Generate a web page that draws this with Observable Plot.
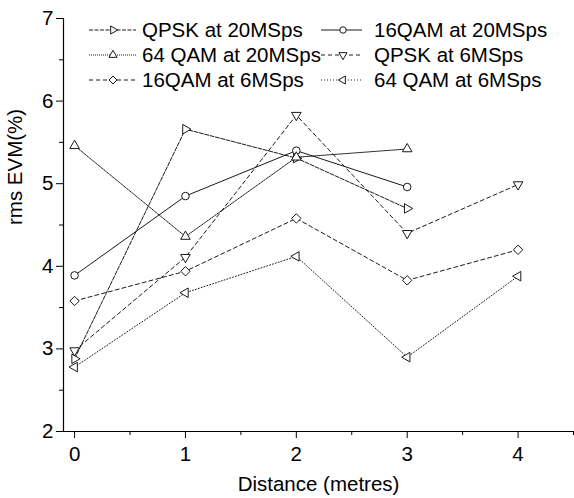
<!DOCTYPE html>
<html>
<head>
<meta charset="utf-8">
<script src="https://cdn.jsdelivr.net/npm/d3@7"></script>
<script src="https://cdn.jsdelivr.net/npm/@observablehq/plot@0.6"></script>
<style>
  html, body { margin: 0; padding: 0; background: #fff; }
  #chart { width: 574px; height: 498px; position: relative; }
</style>
</head>
<body>
<div id="chart"></div>
<script>
// ---- data ----
const distance = [0, 1, 2, 3, 4];
const xTicks = [0, 1, 2, 3, 4];
const xMinorTicks = [0.5, 1.5, 2.5, 3.5, 4.5];
const yTicks = [2, 3, 4, 5, 6, 7];
const yMinorTicks = [2.5, 3.5, 4.5, 5.5, 6.5];

const seriesNames = [
  "QPSK at 20MSps", "16QAM at 20MSps", "64 QAM at 20MSps",
  "QPSK at 6MSps", "16QAM at 6MSps", "64 QAM at 6MSps"
];
const qpsk20 = [2.88, 5.66, 5.31, 4.70];
const qam16_20 = [3.89, 4.85, 5.40, 4.96];
const qam64_20 = [5.46, 4.36, 5.32, 5.42];
const qpsk6 = [2.98, 4.11, 5.83, 4.40, 4.99];
const qam16_6 = [3.58, 3.94, 4.58, 3.83, 4.20];
const qam64_6 = [2.78, 3.68, 4.12, 2.90, 3.88];
const seriesValues = [qpsk20, qam16_20, qam64_20, qpsk6, qam16_6, qam64_6];

const xLabel = "Distance (metres)";
const yLabel = "rms EVM(%)";

// ---- symbols ----
function tri(angle) {
  return {
    draw(ctx, size) {
      const r = Math.sqrt(size / Math.PI);
      for (let i = 0; i < 3; i++) {
        const a = angle + i * 2 * Math.PI / 3;
        const px = r * Math.cos(a), py = r * Math.sin(a);
        if (i === 0) ctx.moveTo(px, py); else ctx.lineTo(px, py);
      }
      ctx.closePath();
    }
  };
}
const diamond = {
  draw(ctx, size) {
    const r = Math.sqrt(size / Math.PI);
    ctx.moveTo(0, -r); ctx.lineTo(r, 0); ctx.lineTo(0, r); ctx.lineTo(-r, 0); ctx.closePath();
  }
};
const circle = {
  draw(ctx, size) {
    const r = Math.sqrt(size / Math.PI);
    ctx.moveTo(r, 0); ctx.arc(0, 0, r, 0, 2 * Math.PI);
  }
};
const styles = [
  {symbol: tri(0), r: 5.5, dash: "4,1.5"},
  {symbol: circle, r: 3.8, dash: null},
  {symbol: tri(-Math.PI / 2), r: 5.5, dash: "1,1"},
  {symbol: tri(Math.PI / 2), r: 5.5, dash: "4,3"},
  {symbol: diamond, r: 4.7, dash: "4,3"},
  {symbol: tri(Math.PI), r: 5.5, dash: "1,2"}
];

const series = seriesNames.map((name, k) =>
  seriesValues[k].map((v, i) => ({name, x: distance[i], y: v}))
);

const FONT = "'Liberation Sans', Arial, Helvetica, sans-serif";
const FS = 20.5;

const marks = [
  Plot.axisX({ticks: xTicks, tickSize: 7, tickPadding: 8, fontSize: FS, tickFormat: d => String(d), label: null}),
  Plot.axisX({ticks: xMinorTicks, tickSize: 4, tickFormat: () => "", label: null}),
  Plot.axisY({ticks: yTicks, tickSize: 7, tickPadding: 3, fontSize: FS, tickFormat: d => String(d), label: null}),
  Plot.axisY({ticks: yMinorTicks, tickSize: 4, tickFormat: () => "", label: null}),
  Plot.ruleY([2], {stroke: "black", strokeWidth: 1.2}),
  Plot.ruleX([-0.1], {stroke: "black", strokeWidth: 1.2}),
  Plot.text([xLabel], {frameAnchor: "bottom", dy: 59, text: d => d, fontSize: FS}),
  Plot.text([yLabel], {frameAnchor: "left", dx: -48, rotate: -90, text: d => d, fontSize: FS})
];
series.forEach((data, k) => {
  const s = styles[k];
  marks.push(Plot.line(data, {x: "x", y: "y", stroke: "black", strokeWidth: 0.9,
    strokeDasharray: s.dash || undefined}));
});
series.forEach((data, k) => {
  const s = styles[k];
  marks.push(Plot.dot(data, {x: "x", y: "y", symbol: s.symbol, r: s.r, stroke: "black",
    fill: "white", strokeWidth: 0.9}));
});

const chart = Plot.plot({
  width: 574,
  height: 498,
  marginLeft: 63,
  marginRight: 1,
  marginTop: 18,
  marginBottom: 67,
  x: {domain: [-0.1, 4.5]},
  y: {domain: [2, 7]},
  style: {fontFamily: FONT, color: "black", background: "white", overflow: "visible"},
  marks
});
document.getElementById("chart").appendChild(chart);

// ---- legend (inside plot area) ----
const svg = d3.select(chart);
const lg = svg.append("g").attr("font-family", FONT).attr("font-size", FS)
  .attr("text-anchor", "start");
const cols = [{l0: 89, l1: 136, m: 113, t: 142}, {l0: 321, l1: 362, m: 343, t: 374}];
const rows = [30, 55, 80];
seriesNames.forEach((name, k) => {
  const c = cols[k % 2], y = rows[Math.floor(k / 2)], s = styles[k];
  lg.append("line").attr("x1", c.l0).attr("x2", c.l1).attr("y1", y).attr("y2", y)
    .attr("stroke", "black").attr("stroke-width", 0.9)
    .attr("stroke-dasharray", s.dash || null);
  lg.append("path").attr("transform", `translate(${c.m},${y})`)
    .attr("d", d3.symbol(s.symbol, Math.PI * (s.r * 0.85) ** 2)())
    .attr("fill", "white").attr("stroke", "black").attr("stroke-width", 0.9);
  lg.append("text").attr("x", c.t).attr("y", y).attr("dy", "0.35em")
    .attr("text-anchor", "start").text(name);
});
</script>
</body>
</html>
